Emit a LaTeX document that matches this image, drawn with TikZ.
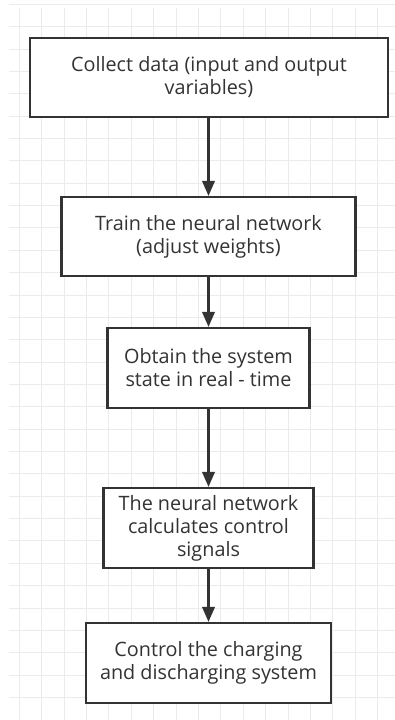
\documentclass[tikz,border=0pt]{standalone}
\usepackage{fontspec}
\setmainfont{Open Sans}
\usetikzlibrary{arrows.meta}
\definecolor{gridc}{HTML}{EBEBEB}
\definecolor{linec}{HTML}{333333}
\tikzset{
  stepbox/.style={draw=linec, line width=2.2pt, fill=white, inner sep=0pt, align=center,
    font=\fontsize{19.8}{23}\selectfont, text=linec},
  flow/.style={draw=linec, line width=2.2pt, -{Triangle[length=15pt,width=12.5pt]}},
  gridline/.style={draw=gridc, line width=0.9pt}
}
\begin{document}
\begin{tikzpicture}[x=1pt,y=-1pt]
\useasboundingbox (0,0) rectangle (395,720);
\fill[white] (0,0) rectangle (395,720);
% grid
\foreach \i in {0,...,16} {
  \draw[gridline] ({19.3+22.4*\i},8) -- ({19.3+22.4*\i},720);
}
\foreach \j in {0,...,31} {
  \draw[gridline] (9,{4.3+22.36*\j}) -- (395,{4.3+22.36*\j});
}
% boxes
\node[stepbox, minimum width=358pt, minimum height=79pt] (b1) at (209,77.5)
  {Collect data (input and output\\variables)};
\node[stepbox, minimum width=294pt, minimum height=79pt] (b2) at (208.5,236.5)
  {Train the neural network\\(adjust weights)};
\node[stepbox, minimum width=202pt, minimum height=80pt] (b3) at (208.5,368)
  {Obtain the system\\state in real - time};
\node[stepbox, minimum width=210pt, minimum height=80pt] (b4) at (208.5,528)
  {The neural network\\calculates control\\signals};
\node[stepbox, minimum width=245pt, minimum height=80pt] (b5) at (208.5,663)
  {Control the charging\\and discharging system};
% arrows
\draw[flow] (b1.south -| b2.north) -- (b2.north);
\draw[flow] (b2) -- (b3);
\draw[flow] (b3) -- (b4);
\draw[flow] (b4) -- (b5);
\end{tikzpicture}
\end{document}
